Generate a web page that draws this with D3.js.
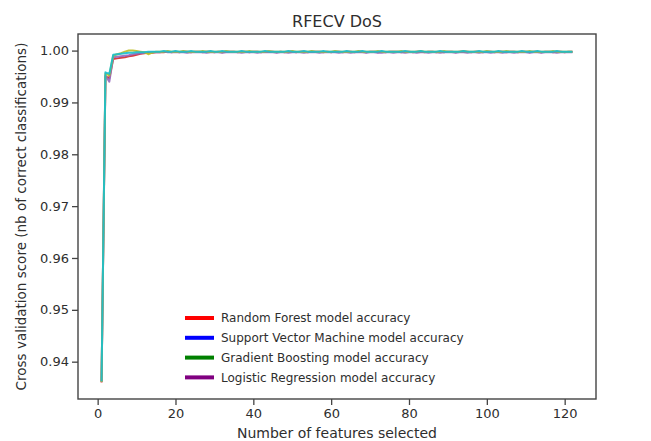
<!DOCTYPE html>
<html>
<head>
<meta charset="utf-8">
<script src="https://cdn.jsdelivr.net/npm/d3@7"></script>
<style>
  html, body { margin: 0; padding: 0; background: #fff; }
  svg { display: block; font-family: "DejaVu Sans", sans-serif; }
</style>
</head>
<body>
<svg id="chart" width="651" height="441"></svg>
<script>
// ---- data ----
const title = "RFECV DoS";
const xLabel = "Number of features selected";
const yLabel = "Cross validation score (nb of correct classifications)";
const xTicks = [0, 20, 40, 60, 80, 100, 120];
const yTicks = [0.94, 0.95, 0.96, 0.97, 0.98, 0.99, 1.00];

const legendLabels = [
  "Random Forest model accuracy",
  "Support Vector Machine model accuracy",
  "Gradient Boosting model accuracy",
  "Logistic Regression model accuracy"
];
const legendColors = ["#ff0000", "#0000ff", "#008000", "#800080"];

// cross-validation score per number of selected features (1..122)
const redScores = [
  0.9360,0.9950,0.9947,0.9984,0.9985,0.9986,0.9987,0.9989,0.9990,0.9992,
  0.9994,0.9995,0.9996,0.9996,0.9997,0.9997,0.9997,0.9998,0.9997,0.9998,
  0.9997,0.9998,0.9998,0.9997,0.9998,0.9998,0.9997,0.9998,0.9998,0.9997,
  0.9998,0.9997,0.9998,0.9998,0.9998,0.9997,0.9998,0.9998,0.9997,0.9998,
  0.9998,0.9997,0.9998,0.9998,0.9998,0.9997,0.9998,0.9997,0.9998,0.9998,
  0.9997,0.9998,0.9998,0.9997,0.9998,0.9998,0.9998,0.9997,0.9998,0.9997,
  0.9998,0.9998,0.9997,0.9998,0.9998,0.9997,0.9998,0.9998,0.9997,0.9998,
  0.9998,0.9997,0.9998,0.9997,0.9998,0.9998,0.9998,0.9997,0.9998,0.9998,
  0.9997,0.9998,0.9998,0.9997,0.9998,0.9998,0.9997,0.9998,0.9997,0.9998,
  0.9998,0.9997,0.9998,0.9998,0.9998,0.9997,0.9998,0.9998,0.9997,0.9998,
  0.9998,0.9997,0.9998,0.9998,0.9997,0.9998,0.9998,0.9997,0.9998,0.9998,
  0.9997,0.9998,0.9998,0.9997,0.9998,0.9998,0.9997,0.9998,0.9998,0.9997,
  0.9998,0.9998
];
const purpleScores = [
  0.9361,0.9952,0.9940,0.9987,0.9988,0.9989,0.9990,0.9991,0.9993,0.9994,
  0.9995,0.9996,0.9996,0.9997,0.9997,0.9997,0.9998,0.9997,0.9997,0.9997,
  0.9997,0.9997,0.9996,0.9997,0.9997,0.9997,0.9997,0.9996,0.9997,0.9997,
  0.9997,0.9996,0.9997,0.9997,0.9997,0.9997,0.9996,0.9997,0.9997,0.9997,
  0.9996,0.9997,0.9997,0.9997,0.9997,0.9996,0.9997,0.9997,0.9996,0.9997,
  0.9997,0.9997,0.9996,0.9997,0.9997,0.9997,0.9996,0.9997,0.9997,0.9997,
  0.9997,0.9996,0.9997,0.9997,0.9996,0.9997,0.9997,0.9997,0.9996,0.9997,
  0.9997,0.9996,0.9996,0.9997,0.9997,0.9996,0.9997,0.9997,0.9996,0.9997,
  0.9997,0.9996,0.9997,0.9997,0.9996,0.9997,0.9997,0.9996,0.9997,0.9997,
  0.9997,0.9996,0.9997,0.9997,0.9996,0.9997,0.9997,0.9996,0.9997,0.9997,
  0.9996,0.9997,0.9997,0.9996,0.9997,0.9997,0.9996,0.9997,0.9997,0.9997,
  0.9996,0.9997,0.9997,0.9996,0.9997,0.9997,0.9997,0.9996,0.9997,0.9997,
  0.9997,0.9997
];
const yellowScores = [
  0.9361,0.9956,0.9952,0.9990,0.9993,0.9995,0.9998,1.0000,1.0000,0.9999,
  0.9998,0.9997,0.9993,0.9996,0.9998,0.9998,0.9998,0.9999,0.9998,0.9998,
  0.9998,0.9999,0.9998,0.9998,0.9998,0.9998,0.9999,0.9998,0.9998,0.9998,
  0.9998,0.9998,0.9999,0.9998,0.9998,0.9998,0.9998,0.9998,0.9999,0.9998,
  0.9998,0.9998,0.9998,0.9999,0.9998,0.9998,0.9998,0.9998,0.9998,0.9999,
  0.9998,0.9998,0.9998,0.9998,0.9999,0.9998,0.9998,0.9998,0.9998,0.9998,
  0.9999,0.9998,0.9998,0.9998,0.9998,0.9998,0.9999,0.9998,0.9998,0.9998,
  0.9998,0.9999,0.9998,0.9998,0.9998,0.9998,0.9998,0.9999,0.9998,0.9998,
  0.9998,0.9998,0.9999,0.9998,0.9998,0.9998,0.9998,0.9998,0.9999,0.9998,
  0.9998,0.9998,0.9998,0.9999,0.9998,0.9998,0.9998,0.9998,0.9998,0.9999,
  0.9998,0.9998,0.9998,0.9998,0.9999,0.9998,0.9998,0.9998,0.9998,0.9998,
  0.9999,0.9998,0.9998,0.9998,0.9998,0.9998,0.9999,0.9998,0.9998,0.9998,
  0.9998,0.9998
];
const tealScores = [
  0.9362,0.9958,0.9955,0.9992,0.9993,0.9994,0.9995,0.9996,0.9996,0.9997,
  0.9997,0.9997,0.9998,0.9998,0.9998,0.9998,0.9999,0.9998,0.9998,0.9999,
  0.9998,0.9998,0.9998,0.9999,0.9998,0.9998,0.9998,0.9998,0.9999,0.9998,
  0.9998,0.9999,0.9998,0.9998,0.9998,0.9998,0.9999,0.9998,0.9998,0.9998,
  0.9998,0.9998,0.9999,0.9998,0.9998,0.9998,0.9998,0.9998,0.9999,0.9998,
  0.9998,0.9998,0.9999,0.9998,0.9998,0.9998,0.9998,0.9999,0.9998,0.9998,
  0.9998,0.9998,0.9998,0.9999,0.9998,0.9998,0.9998,0.9999,0.9998,0.9998,
  0.9998,0.9998,0.9999,0.9998,0.9998,0.9998,0.9998,0.9998,0.9999,0.9998,
  0.9998,0.9998,0.9999,0.9998,0.9998,0.9998,0.9998,0.9999,0.9998,0.9998,
  0.9998,0.9998,0.9998,0.9999,0.9998,0.9998,0.9998,0.9999,0.9998,0.9998,
  0.9998,0.9998,0.9999,0.9998,0.9998,0.9998,0.9998,0.9998,0.9999,0.9998,
  0.9998,0.9998,0.9999,0.9998,0.9998,0.9998,0.9998,0.9999,0.9998,0.9998,
  0.9998,0.9998
];
const seriesScores = [redScores, purpleScores, yellowScores, tealScores];
const seriesColors = ["#d62728", "#9467bd", "#bcbd22", "#17becf"];

// ---- drawing ----
const svg = d3.select("#chart");
const W = 651, H = 441;
const plot = { left: 78, right: 596, top: 34, bottom: 399 };
const textColor = "#2e2e2e";

svg.append("rect").attr("width", W).attr("height", H).attr("fill", "#fff");

const x = d3.scaleLinear().domain([-5.05, 128.05]).range([plot.left, plot.right]);
const y = d3.scaleLinear().domain([0.9328, 1.0032]).range([plot.bottom, plot.top]);

// lines
const line = d3.line()
  .x((d, i) => x(i + 1))
  .y(d => y(d));

const gLines = svg.append("g");
seriesScores.forEach((s, k) => {
  gLines.append("path")
    .datum(s)
    .attr("fill", "none")
    .attr("stroke", seriesColors[k])
    .attr("stroke-width", 2)
    .attr("stroke-linejoin", "round")
    .attr("opacity", 0.9)
    .attr("d", line);
});

// axes
const xAxis = d3.axisBottom(x).tickValues(xTicks).tickSize(6).tickPadding(4).tickFormat(d3.format("d"));
const yAxis = d3.axisLeft(y).tickValues(yTicks).tickSize(6).tickPadding(3).tickFormat(d3.format(".2f"));

const gx = svg.append("g").attr("transform", `translate(0,${plot.bottom})`).call(xAxis);
const gy = svg.append("g").attr("transform", `translate(${plot.left},0)`).call(yAxis);
[gx, gy].forEach(g => {
  g.select(".domain").remove();
  g.selectAll(".tick line").attr("stroke", "#444").attr("stroke-width", 1.3);
  g.selectAll(".tick text").attr("fill", textColor).attr("font-size", 13)
    .attr("font-family", "DejaVu Sans, sans-serif");
});

// frame
svg.append("rect")
  .attr("x", plot.left).attr("y", plot.top)
  .attr("width", plot.right - plot.left).attr("height", plot.bottom - plot.top)
  .attr("fill", "none").attr("stroke", "#444").attr("stroke-width", 1.4);

// title & labels
const cx = (plot.left + plot.right) / 2;
svg.append("text").attr("x", cx).attr("y", 27)
  .attr("text-anchor", "middle").attr("font-size", 16).attr("fill", textColor)
  .text(title);
svg.append("text").attr("x", cx).attr("y", 438)
  .attr("text-anchor", "middle").attr("font-size", 14).attr("fill", textColor)
  .text(xLabel);
svg.append("text")
  .attr("transform", `translate(26,${(plot.top + plot.bottom) / 2}) rotate(-90)`)
  .attr("text-anchor", "middle").attr("font-size", 13.5).attr("fill", textColor)
  .text(yLabel);

// legend
const legend = svg.append("g").attr("transform", "translate(185,318)");
legendLabels.forEach((lab, i) => {
  const g = legend.append("g").attr("transform", `translate(0,${i * 19.8})`);
  g.append("line").attr("x1", 0).attr("x2", 29).attr("y1", 0).attr("y2", 0)
    .attr("stroke", legendColors[i]).attr("stroke-width", 4);
  g.append("text").attr("x", 36).attr("y", 0).attr("dy", "0.35em")
    .attr("font-size", 12).attr("fill", textColor).text(lab);
});
</script>
</body>
</html>
